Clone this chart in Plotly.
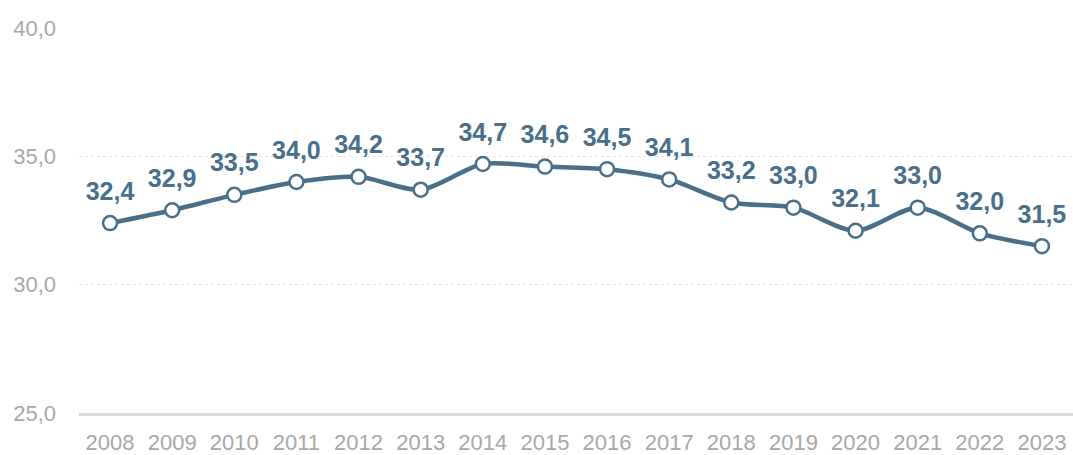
import plotly.graph_objects as go

years = [str(y) for y in range(2008, 2024)]
values = [32.4, 32.9, 33.5, 34.0, 34.2, 33.7, 34.7, 34.6, 34.5, 34.1, 33.2, 33.0, 32.1, 33.0, 32.0, 31.5]
y_ticks = [25, 30, 35, 40]

line_color = "#4a6f8a"
tick_color = "#a8a8a8"
font_family = "Liberation Sans, Arial, sans-serif"

labels = ["<b>" + f"{v:.1f}".replace(".", ",") + "</b>" for v in values]

fig = go.Figure()
fig.add_trace(go.Scatter(
    x=years, y=values, mode="lines+markers",
    line=dict(color=line_color, width=4.5, shape="spline", smoothing=0.8),
    marker=dict(size=14, color="white", line=dict(color=line_color, width=2.5)),
    hoverinfo="skip", cliponaxis=False,
))
fig.add_trace(go.Scatter(
    x=years, y=values, mode="markers+text", text=labels, textposition="top center",
    textfont=dict(size=25, color=line_color, family=font_family),
    marker=dict(size=26, color="rgba(0,0,0,0)"),
    hoverinfo="skip", cliponaxis=False,
))

fig.update_layout(
    width=1073, height=455,
    margin=dict(l=79, r=0, t=28, b=42),
    plot_bgcolor="white", paper_bgcolor="white",
    separators=", ",
    showlegend=False,
    font=dict(family=font_family, color=tick_color, size=22),
    xaxis=dict(type="category", range=[-0.5, 15.5], showgrid=False, zeroline=False,
               showline=True, linecolor="#d9d9d9", linewidth=3,
               ticks="", ticklabelstandoff=8,
               tickfont=dict(size=22, color=tick_color)),
    yaxis=dict(range=[25, 40], tickvals=y_ticks, tickformat=".1f",
               showgrid=True, gridcolor="#e6e6e6", griddash="dot", gridwidth=1,
               zeroline=False, showline=False, ticks="", ticklabelstandoff=22,
               tickfont=dict(size=22, color=tick_color)),
)

fig.write_html("out.html", config={"displayModeBar": False},
               post_script="document.body.style.margin='0';document.body.style.overflow='hidden';")
